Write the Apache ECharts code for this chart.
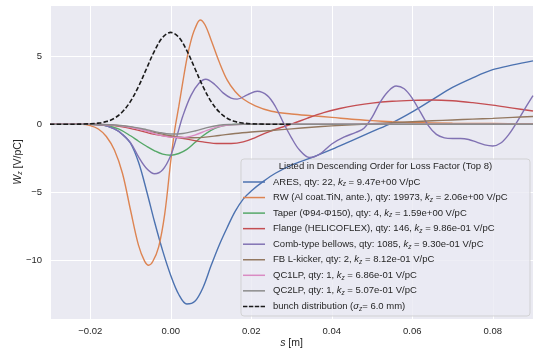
<!DOCTYPE html>
<html>
<head>
<meta charset="utf-8">
<script src="https://cdn.jsdelivr.net/npm/echarts@6/dist/echarts.min.js"></script>
<style>
html, body { margin: 0; padding: 0; background: #fff; }
#chart { width: 537px; height: 352px; }
</style>
</head>
<body>
<div id="chart"></div>
<script>
// wake potential W_z [V/pC] against s [m]
var aresS = [-0.03, -0.02, -0.017, -0.014, -0.012, -0.010, -0.008, -0.006, -0.004, -0.002, 0, 0.002, 0.004, 0.006, 0.008, 0.010, 0.012, 0.014, 0.016, 0.018, 0.020, 0.023, 0.026, 0.030, 0.035, 0.040, 0.045, 0.050, 0.055, 0.060, 0.065, 0.070, 0.075, 0.080, 0.085, 0.090];
var aresW = [0, 0, -0.05, -0.35, -0.75, -1.4, -2.8, -4.9, -7.2, -9.3, -11.1, -12.5, -13.2, -13.0, -12.0, -10.4, -8.9, -7.6, -6.4, -5.5, -4.9, -4.2, -3.6, -3.0, -2.45, -1.85, -1.2, -0.55, 0.1, 0.9, 1.8, 2.7, 3.4, 4.0, 4.35, 4.65];

var rwS = [-0.03, -0.022, -0.020, -0.018, -0.016, -0.014, -0.012, -0.010, -0.008, -0.0065, -0.0055, -0.0045, -0.003, -0.0015, 0, 0.001, 0.002, 0.003, 0.004, 0.005, 0.006, 0.0073, 0.0085, 0.010, 0.012, 0.014, 0.016, 0.018, 0.021, 0.025, 0.030, 0.035, 0.040, 0.045, 0.050, 0.055, 0.060, 0.070, 0.080, 0.090];
var rwW = [0, 0, -0.1, -0.35, -0.9, -1.9, -3.6, -6.3, -8.9, -10.05, -10.35, -10.1, -9.0, -6.6, -2.7, -0.4, 1.3, 3.1, 4.8, 6.1, 7.0, 7.65, 7.3, 6.2, 4.6, 3.25, 2.4, 1.85, 1.35, 0.95, 0.75, 0.62, 0.5, 0.36, 0.26, 0.18, 0.12, 0.07, 0.05, 0.03];

var taperS = [-0.03, -0.02, -0.016, -0.013, -0.010, -0.008, -0.006, -0.004, -0.002, 0, 0.002, 0.004, 0.006, 0.008, 0.010, 0.012, 0.014, 0.017, 0.09];
var taperW = [0, 0, -0.1, -0.35, -0.85, -1.25, -1.62, -1.95, -2.2, -2.28, -2.15, -1.85, -1.35, -0.85, -0.45, -0.2, -0.07, 0, 0];

var flangeS = [-0.03, -0.02, -0.016, -0.012, -0.008, -0.004, 0, 0.004, 0.008, 0.012, 0.015, 0.018, 0.021, 0.024, 0.027, 0.030, 0.034, 0.038, 0.042, 0.046, 0.050, 0.055, 0.060, 0.065, 0.070, 0.075, 0.080, 0.085, 0.090];
var flangeW = [0, 0, -0.05, -0.2, -0.45, -0.75, -0.92, -1.1, -1.3, -1.42, -1.42, -1.3, -0.98, -0.6, -0.28, 0.0, 0.45, 0.85, 1.15, 1.38, 1.55, 1.68, 1.75, 1.78, 1.72, 1.58, 1.4, 1.18, 0.97];

var combS = [-0.03, -0.02, -0.017, -0.014, -0.012, -0.010, -0.008, -0.006, -0.004, -0.002, 0, 0.0015, 0.003, 0.005, 0.007, 0.0087, 0.011, 0.013, 0.015, 0.0165, 0.019, 0.0215, 0.024, 0.026, 0.028, 0.030, 0.032, 0.0345, 0.037, 0.040, 0.043, 0.046, 0.048, 0.050, 0.052, 0.054, 0.056, 0.058, 0.060, 0.062, 0.064, 0.066, 0.068, 0.070, 0.072, 0.074, 0.076, 0.078, 0.080, 0.082, 0.084, 0.086, 0.088, 0.090];
var combW = [0, 0, -0.05, -0.35, -0.75, -1.35, -2.4, -3.25, -3.64, -3.35, -2.3, -0.9, 0.6, 2.1, 3.0, 3.3, 2.9, 2.3, 1.92, 1.84, 2.15, 2.42, 2.1, 1.3, 0.1, -1.0, -1.9, -2.45, -2.2, -1.45, -0.95, -0.6, -0.3, 0.5, 1.6, 2.4, 2.8, 2.6, 1.9, 0.9, -0.1, -0.75, -1.0, -1.05, -1.05, -1.12, -1.32, -1.52, -1.6, -1.38, -0.75, 0.15, 1.15, 2.1];

var fbS = [-0.03, -0.02, -0.015, -0.010, -0.005, 0, 0.004, 0.008, 0.012, 0.016, 0.020, 0.025, 0.030, 0.035, 0.040, 0.045, 0.050, 0.055, 0.060, 0.065, 0.070, 0.075, 0.080, 0.085, 0.090];
var fbW = [0, 0, -0.05, -0.2, -0.55, -0.85, -1.0, -0.97, -0.83, -0.68, -0.57, -0.46, -0.34, -0.22, -0.12, -0.04, 0.04, 0.11, 0.18, 0.25, 0.31, 0.37, 0.43, 0.5, 0.56];

var qcS = [-0.03, -0.02, -0.015, -0.010, -0.006, -0.003, 0, 0.003, 0.006, 0.009, 0.012, 0.015, 0.018, 0.09];
var qc1W = [0, 0, -0.05, -0.22, -0.5, -0.78, -0.95, -0.98, -0.8, -0.45, -0.18, -0.05, 0, 0];
var qc2W = [0, 0, -0.04, -0.18, -0.4, -0.6, -0.72, -0.68, -0.5, -0.25, -0.08, -0.02, 0, 0];

var bunchS = [-0.03, -0.024, -0.022, -0.020, -0.018, -0.016, -0.014, -0.012, -0.010, -0.008, -0.006, -0.004, -0.002, 0, 0.002, 0.004, 0.006, 0.008, 0.010, 0.012, 0.014, 0.016, 0.018, 0.020, 0.022, 0.024, 0.03];
var bunchW = [0, 0, 0.01, 0.03, 0.08, 0.19, 0.44, 0.91, 1.68, 2.77, 4.09, 5.40, 6.38, 6.74, 6.38, 5.40, 4.09, 2.77, 1.68, 0.91, 0.44, 0.19, 0.08, 0.03, 0.01, 0, 0];

// legend rows
var names = ['ARES', 'RW (Al coat.TiN, ante.)', 'Taper (\u03a694-\u03a6150)', 'Flange (HELICOFLEX)', 'Comb-type bellows', 'FB L-kicker', 'QC1LP', 'QC2LP'];
var qty = [22, 19973, 4, 146, 1085, 2, 1, 1];
var kz = ['9.47e+00', '2.06e+00', '1.59e+00', '9.86e-01', '9.30e-01', '8.12e-01', '6.86e-01', '5.07e-01'];
var bunchName = 'bunch distribution';
var legendTitle = 'Listed in Descending Order for Loss Factor (Top 8)';

var colors = ['#4C72B0', '#DD8452', '#55A868', '#C44E52', '#8172B3', '#937860', '#DA8BC3', '#8C8C8C'];
var FONT = '"Liberation Sans", Arial, sans-serif';
var TXT = '#262626';

var curves = [
	[aresS, aresW], [rwS, rwW], [taperS, taperW], [flangeS, flangeW],
	[combS, combW], [fbS, fbW], [qcS, qc1W], [qcS, qc2W]
];

function pairs(s, w) {
	var out = [];
	for (var i = 0; i < s.length; i++) {
		out.push([s[i], w[i]]);
	}
	return out;
}

// legend handles: a thin bar, and four dashes for the bunch
var solidIcon = 'path://M0,0h22v1.5h-22z';
var dashIcon = 'path://M0,0h4.4v1.5h-4.4z M5.9,0h4.4v1.5h-4.4z M11.8,0h4.4v1.5h-4.4z M17.6,0h4.4v1.5h-4.4z';

var legendText = {};
var legendData = [];
var series = [];
for (var i = 0; i < names.length; i++) {
	legendText[names[i]] = names[i] + ', qty: ' + qty[i] + ', {i|k}{s|z} = ' + kz[i] + ' V/pC';
	legendData.push({ name: names[i], icon: solidIcon });
	series.push({
		name: names[i],
		type: 'line',
		data: pairs(curves[i][0], curves[i][1]),
		symbol: 'none',
		smooth: 0.35,
		lineStyle: { color: colors[i], width: 1.4 },
		itemStyle: { color: colors[i] }
	});
}
legendText[bunchName] = 'bunch distribution ({i|\u03c3}{s|z}= 6.0 mm)';
legendData.push({ name: bunchName, icon: dashIcon });
series.push({
	name: bunchName,
	type: 'line',
	data: pairs(bunchS, bunchW),
	symbol: 'none',
	smooth: 0.35,
	lineStyle: { color: '#1a1a1a', width: 1.6, type: [4.5, 2.2] },
	itemStyle: { color: '#1a1a1a' }
});

function minus(v) {
	return v < 0 ? '\u2212' + String(-v) : String(v);
}

var richText = {
	i: { fontStyle: 'italic', fontFamily: FONT, fontSize: 9.5, color: TXT },
	s: { fontStyle: 'italic', fontFamily: FONT, fontSize: 6.5, color: TXT, verticalAlign: 'bottom', lineHeight: 9 }
};

var myChart = echarts.init(document.getElementById('chart'), null, { renderer: 'canvas' });

var option = {
	animation: false,
	backgroundColor: '#ffffff',
	grid: {
		left: 50, top: 5, right: 4, bottom: 33,
		containLabel: false,
		outerBoundsMode: 'none',
		show: true, backgroundColor: '#EAEAF2', borderWidth: 0
	},
	xAxis: {
		type: 'value',
		min: -0.03,
		max: 0.09,
		name: '{i|s} [m]',
		nameLocation: 'middle',
		nameGap: 19,
		nameMoveOverlap: false,
		nameTextStyle: {
			fontFamily: FONT, fontSize: 10.5, color: TXT,
			rich: { i: { fontStyle: 'italic', fontFamily: FONT, fontSize: 10.5, color: TXT } }
		},
		axisLine: { show: false },
		axisTick: { show: false },
		axisLabel: {
			showMinLabel: false, showMaxLabel: false,
			margin: 7, fontFamily: FONT, fontSize: 9.5, color: TXT,
			formatter: function(v) {
				return (v < 0 ? '\u2212' : '') + Math.abs(v).toFixed(2);
			}
		},
		splitLine: { show: true, lineStyle: { color: '#ffffff', width: 1 } }
	},
	yAxis: {
		type: 'value',
		min: -14.3,
		max: 8.75,
		name: '{i|W}{s|z} [V/pC]',
		nameLocation: 'middle',
		nameRotate: 90,
		nameGap: 26,
		nameMoveOverlap: false,
		nameTextStyle: {
			fontFamily: FONT, fontSize: 10.5, color: TXT,
			rich: {
				i: { fontStyle: 'italic', fontFamily: FONT, fontSize: 10.5, color: TXT },
				s: { fontStyle: 'italic', fontFamily: FONT, fontSize: 7, color: TXT, verticalAlign: 'bottom', lineHeight: 10 }
			}
		},
		axisLine: { show: false },
		axisTick: { show: false },
		axisLabel: {
			showMinLabel: false, showMaxLabel: false,
			margin: 8, fontFamily: FONT, fontSize: 9.5, color: TXT,
			formatter: minus
		},
		splitLine: { show: true, lineStyle: { color: '#ffffff', width: 1 } }
	},
	legend: {
		orient: 'vertical',
		left: 243,
		top: 176,
		padding: 0,
		itemWidth: 22,
		itemHeight: 1.5,
		itemGap: 3.55,
		selectedMode: false,
		data: legendData,
		formatter: function(name) {
			return legendText[name];
		},
		textStyle: {
			fontFamily: FONT, fontSize: 9.5, color: TXT, lineHeight: 12,
			padding: [0, 0, 0, 3],
			rich: richText
		}
	},
	graphic: [
		{
			type: 'rect',
			z: 3,
			shape: { x: 241, y: 159, width: 289, height: 157, r: 3 },
			style: { fill: 'rgba(234,234,242,0.8)', stroke: 'rgba(204,204,204,0.8)', lineWidth: 1 }
		},
		{
			type: 'text',
			z: 4,
			style: {
				text: legendTitle, x: 385.5, y: 166,
				align: 'center', verticalAlign: 'middle',
				font: '9.5px ' + FONT, fill: TXT
			}
		}
	],
	series: series
};

myChart.setOption(option);
</script>
</body>
</html>
